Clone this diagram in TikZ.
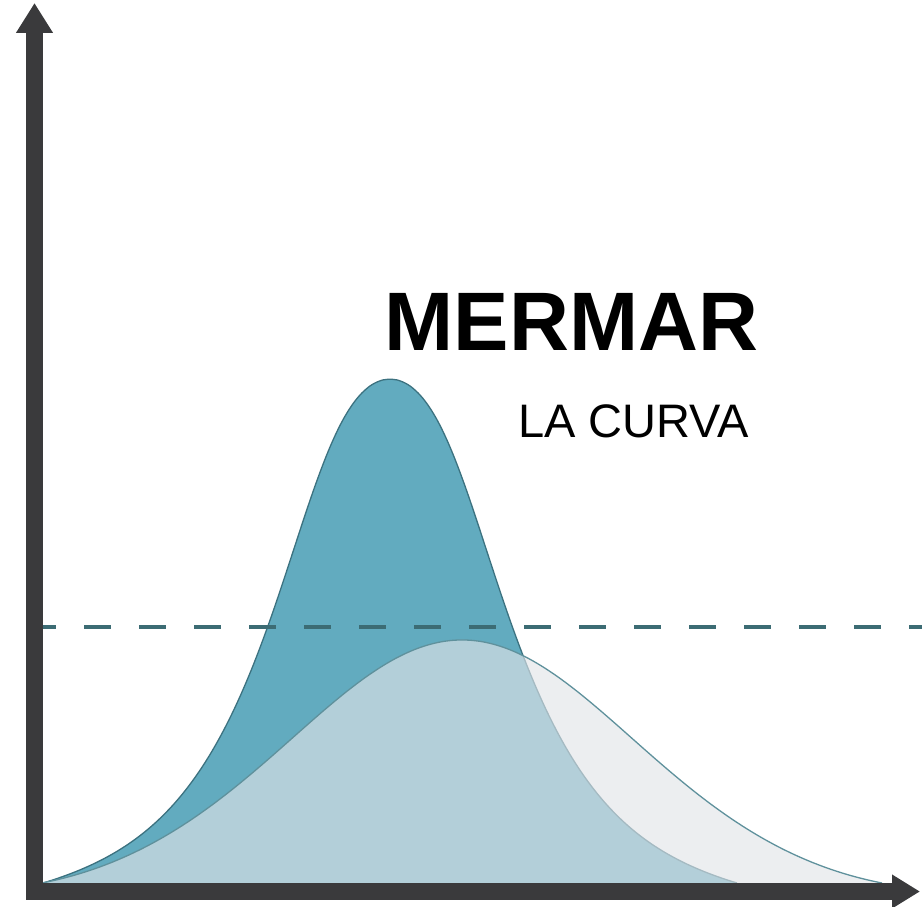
\documentclass[tikz,border=0pt]{standalone}
\usepackage{fontspec}
\setmainfont{Liberation Sans}
\usetikzlibrary{arrows.meta}
\definecolor{axisgray}{RGB}{58,58,60}
\definecolor{tallteal}{RGB}{98,171,191}
\definecolor{talledge}{RGB}{60,114,128}
\definecolor{flatgray}{RGB}{225,228,232}
\definecolor{flatedge}{RGB}{95,145,156}
\definecolor{dashteal}{RGB}{60,108,116}

\begin{document}
\begin{tikzpicture}[x=1pt, y=-1pt,
  declare function={tallu(\t)=((\t-390)/138)*(1-0.2*exp(-((\t-390)/80)^2));
                    tallh(\t)=883-504*(1/(cosh(tallu(\t)))^2)*(1-((\t-390)/347)^8);
                    flath(\t)=883-243*exp(-0.5*((\t-462)/167)^2)*(1-((\t-462)/420)^8);}]
\tikzstyle{axis}=[draw=axisgray, line width=17pt, line join=miter, {Triangle[length=30pt,width=35pt]}-{Triangle[length=28pt,width=32pt]}]
\tikzstyle{tallfill}=[fill=tallteal]
\tikzstyle{talline}=[draw=talledge, line width=1.3pt]
\tikzstyle{flatfill}=[fill=flatgray, fill opacity=0.64]
\tikzstyle{flatline}=[draw=flatedge, line width=1.3pt]
\tikzstyle{limit}=[draw=dashteal, line width=4.5pt, dash pattern=on 27pt off 28pt, dash phase=14pt]
\tikzstyle{title}=[anchor=base, inner sep=0pt, font=\bfseries\fontsize{83}{83}\selectfont]
\tikzstyle{subtitle}=[anchor=base, inner sep=0pt, font=\fontsize{47}{47}\selectfont]

  \useasboundingbox (0,0) rectangle (922,907);

  \coordinate (ytop)   at (34.5,3);
  \coordinate (origin) at (34.5,891.5);
  \coordinate (xend)   at (920,891.5);
  \coordinate (limitstart) at (43,627);
  \coordinate (limitend)   at (922,627);

  % tall curve
  \fill[tallfill] plot[domain=43:737, samples=160, smooth] (\x,{tallh(\x)}) -- cycle;
  \draw[talline]  plot[domain=43:737, samples=160, smooth] (\x,{tallh(\x)});

  % flat curve
  \fill[flatfill] plot[domain=42:882, samples=160, smooth] (\x,{flath(\x)}) -- cycle;
  \draw[flatline] plot[domain=42:882, samples=160, smooth] (\x,{flath(\x)});

  \draw[limit] (limitstart) -- (limitend);
  \draw[axis] (ytop) -- (origin) -- (xend);

  \node[title]    (mermar)  at (571.5,350) {MERMAR};
  \node[subtitle] (lacurva) at (633.5,437) {LA CURVA};

\end{tikzpicture}
\end{document}
